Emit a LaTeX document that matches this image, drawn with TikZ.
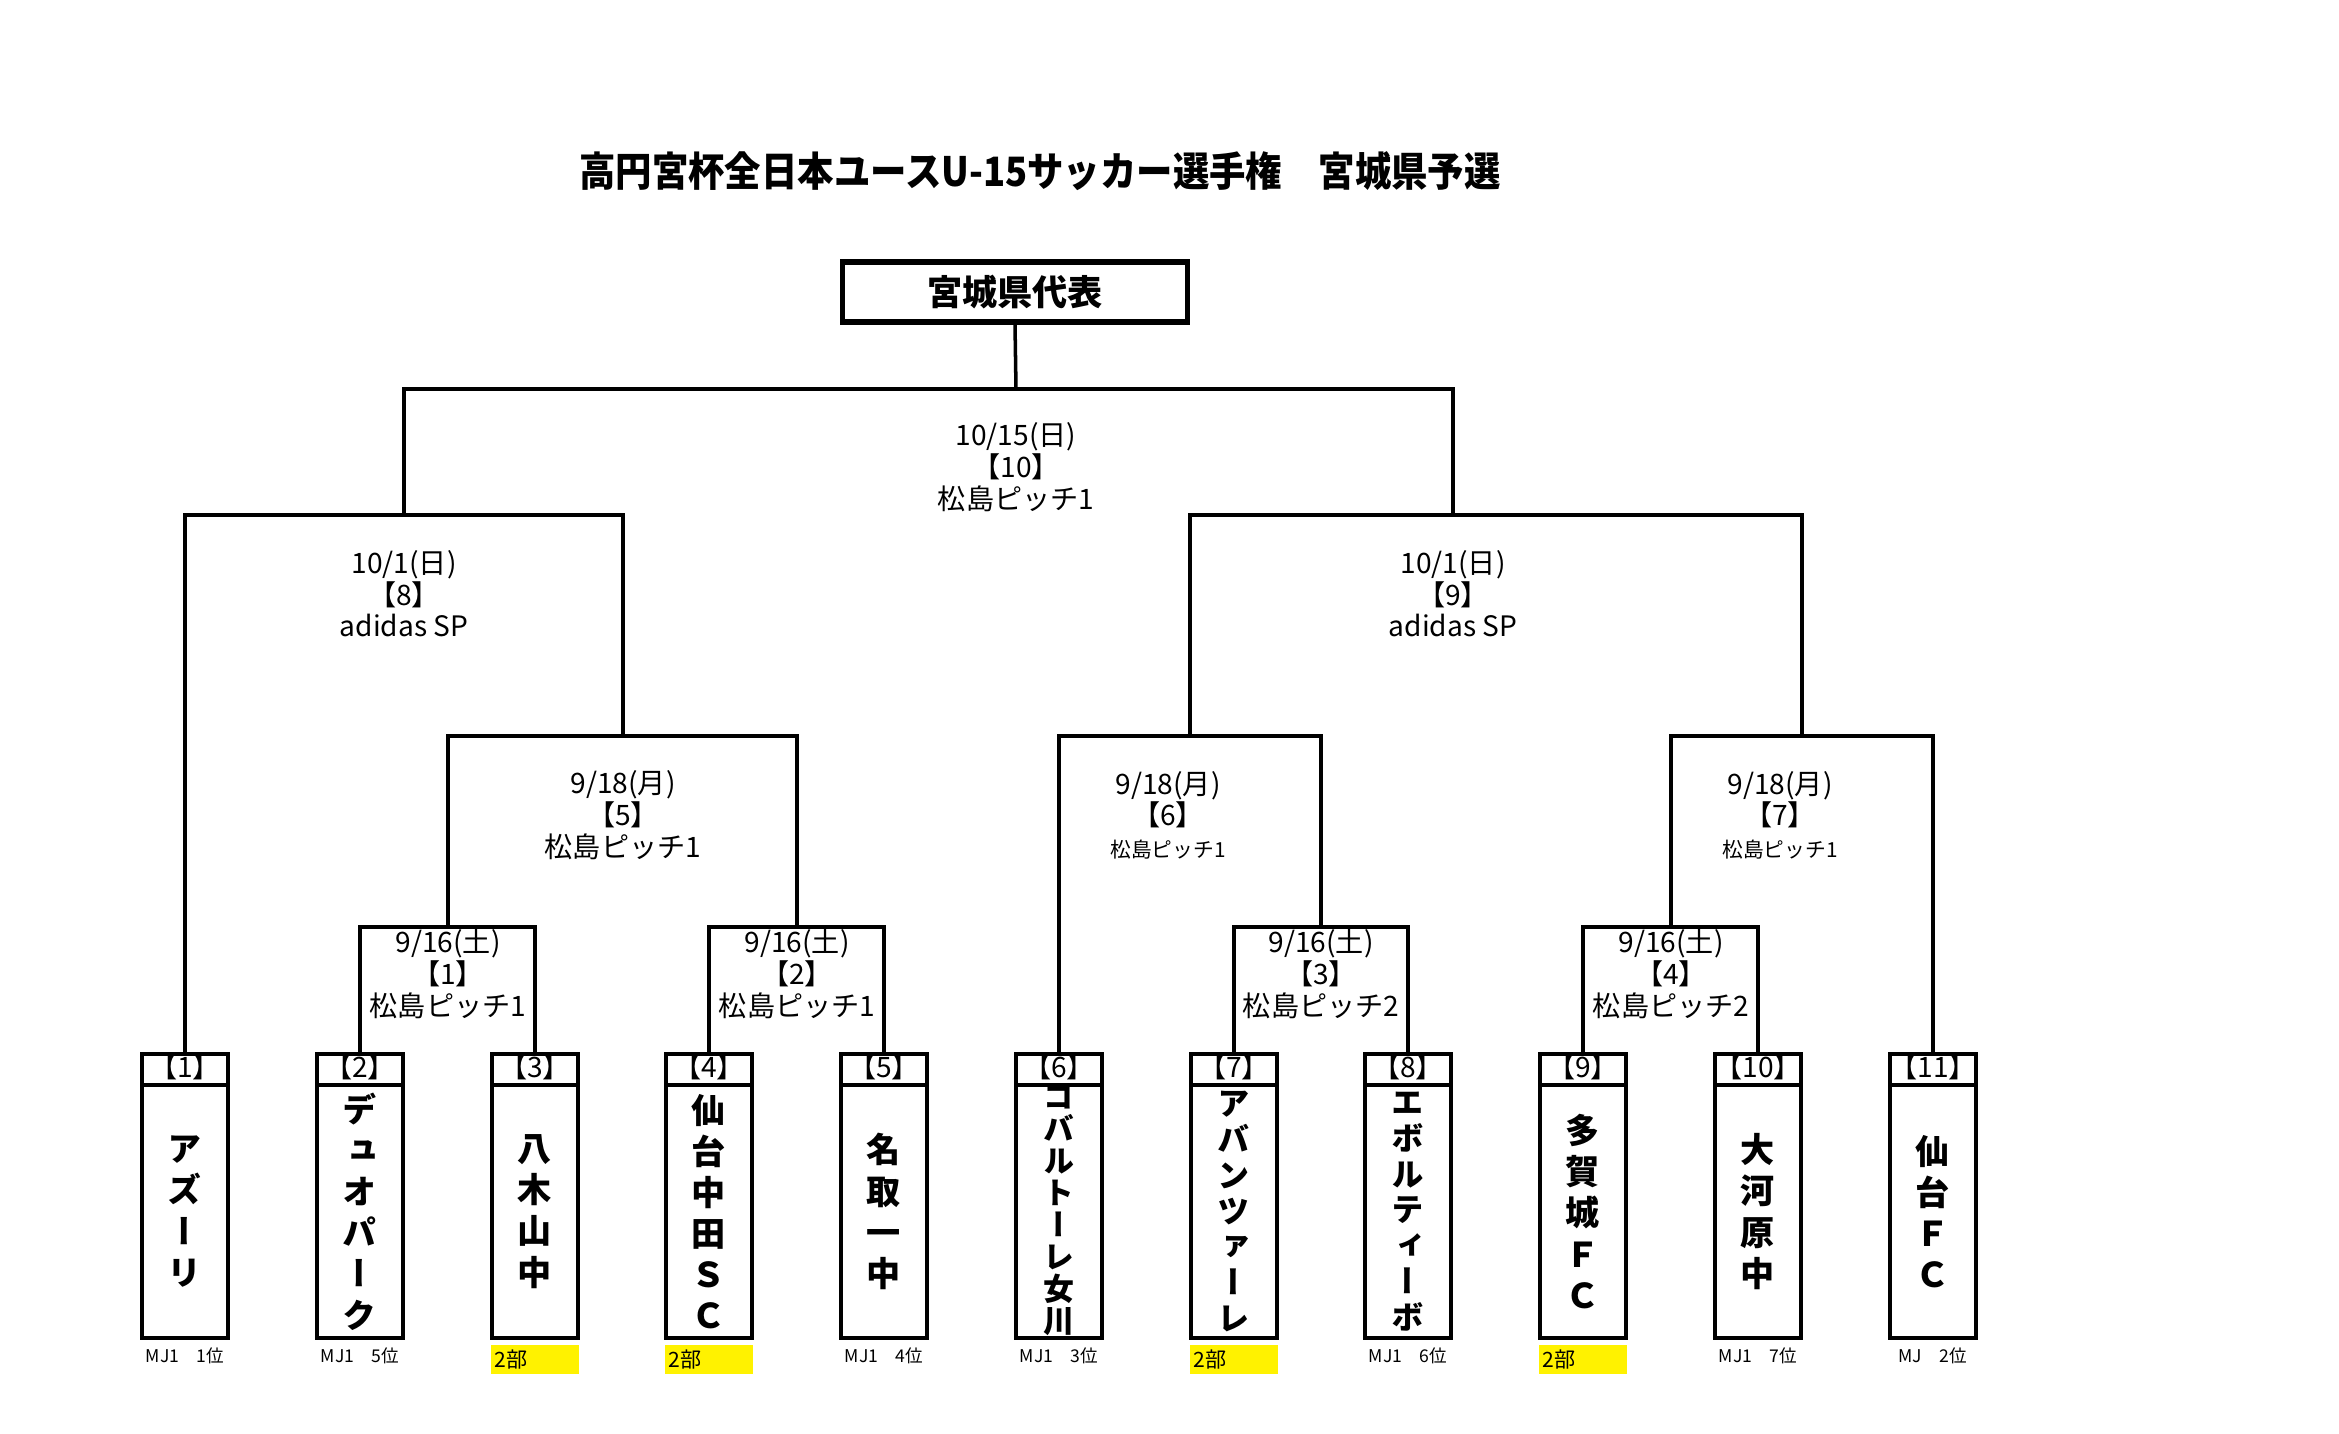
\documentclass[tikz,border=0pt]{standalone}
\usepackage{fontspec}
\setmainfont{Noto Sans CJK JP}
\newfontfamily\titlefont{Noto Sans CJK JP}[FakeStretch=0.9]
\newfontfamily\vfont{Noto Sans CJK JP}[RawFeature=+vert]
\usepackage{tikz}
\usetikzlibrary{positioning}

\begin{document}
\begin{tikzpicture}[x=0.01cm,y=-0.01cm,
  bracket/.style={line width=1pt},
  champbox/.style={draw,line width=1.5pt,minimum width=3.45cm,minimum height=0.6cm,inner sep=0pt,font=\bfseries\fontsize{10}{12}\selectfont},
  teambox/.style={draw,line width=1.3pt,minimum width=0.86cm,minimum height=2.84cm,inner sep=0pt,
    path picture={\draw[line width=1.3pt] ([yshift=-0.31cm]path picture bounding box.north west) -- ([yshift=-0.31cm]path picture bounding box.north east);}},
  headlabel/.style={inner sep=0pt,font=\fontsize{8}{9}\selectfont},
  teamname/.style={inner sep=0pt,align=center,font=\vfont\bfseries\fontsize{9.7}{11.7}\selectfont},
  teamnamemid/.style={inner sep=0pt,align=center,font=\vfont\bfseries\fontsize{9.2}{10.2}\selectfont},
  teamnamesmall/.style={inner sep=0pt,align=center,font=\vfont\bfseries\fontsize{8.8}{9.1}\selectfont},
  matchlabel/.style={inner sep=0pt,align=center,font=\fontsize{8}{9}\selectfont},
  note/.style={inner sep=0.5pt,font=\fontsize{5}{6}\selectfont},
  div2/.style={fill=yellow,minimum width=0.88cm,minimum height=0.29cm,inner sep=0pt,text width=0.8cm,align=left,font=\fontsize{6}{7}\selectfont}]
\useasboundingbox (0,0) rectangle (2339,1433);
% Titulo
\node[inner sep=0pt,font=\titlefont\bfseries\fontsize{11.5}{14}\selectfont] (title) at (1040,171) {高円宮杯全日本ユースU-15サッカー選手権　宮城県予選};
\node[champbox] (champ) at (1015,292) {宮城県代表};
% Equipes
\node[teambox] (t1) at (185,1196) {};
\node[teambox] (t2) at (360,1196) {};
\node[teambox] (t3) at (535,1196) {};
\node[teambox] (t4) at (709,1196) {};
\node[teambox] (t5) at (884,1196) {};
\node[teambox] (t6) at (1059,1196) {};
\node[teambox] (t7) at (1234,1196) {};
\node[teambox] (t8) at (1408,1196) {};
\node[teambox] (t9) at (1583,1196) {};
\node[teambox] (t10) at (1758,1196) {};
\node[teambox] (t11) at (1933,1196) {};
% Numeros
\node[headlabel] (h1) at ([yshift=-0.155cm]t1.north) {【1】};
\node[headlabel] (h2) at ([yshift=-0.155cm]t2.north) {【2】};
\node[headlabel] (h3) at ([yshift=-0.155cm]t3.north) {【3】};
\node[headlabel] (h4) at ([yshift=-0.155cm]t4.north) {【4】};
\node[headlabel] (h5) at ([yshift=-0.155cm]t5.north) {【5】};
\node[headlabel] (h6) at ([yshift=-0.155cm]t6.north) {【6】};
\node[headlabel] (h7) at ([yshift=-0.155cm]t7.north) {【7】};
\node[headlabel] (h8) at ([yshift=-0.155cm]t8.north) {【8】};
\node[headlabel] (h9) at ([yshift=-0.155cm]t9.north) {【9】};
\node[headlabel] (h10) at ([yshift=-0.155cm]t10.north) {【10】};
\node[headlabel] (h11) at ([yshift=-0.155cm]t11.north) {【11】};
% Nomes (vertical)
\node[teamname] (n1) at ([yshift=-0.155cm]t1.center) {ア\\ズ\\ー\\リ};
\node[teamname] (n2) at ([yshift=-0.155cm]t2.center) {デ\\ュ\\オ\\パ\\ー\\ク};
\node[teamname] (n3) at ([yshift=-0.155cm]t3.center) {八\\木\\山\\中};
\node[teamname] (n4) at ([yshift=-0.155cm]t4.center) {仙\\台\\中\\田\\Ｓ\\Ｃ};
\node[teamname] (n5) at ([yshift=-0.155cm]t5.center) {名\\取\\一\\中};
\node[teamnamesmall] (n6) at ([yshift=-0.155cm]t6.center) {コ\\バ\\ル\\ト\\ー\\レ\\女\\川};
\node[teamnamemid] (n7) at ([yshift=-0.155cm]t7.center) {ア\\バ\\ン\\ツ\\ァ\\ー\\レ};
\node[teamnamemid] (n8) at ([yshift=-0.155cm]t8.center) {エ\\ボ\\ル\\テ\\ィ\\ー\\ボ};
\node[teamname] (n9) at ([yshift=-0.155cm]t9.center) {多\\賀\\城\\Ｆ\\Ｃ};
\node[teamname] (n10) at ([yshift=-0.155cm]t10.center) {大\\河\\原\\中};
\node[teamname] (n11) at ([yshift=-0.155cm]t11.center) {仙\\台\\Ｆ\\Ｃ};
% Notas
\node[note,below=0.05cm of t1] (r1) {MJ1　1位};
\node[note,below=0.05cm of t2] (r2) {MJ1　5位};
\node[div2,below=0.04cm of t3] (r3) {2部};
\node[div2,below=0.04cm of t4] (r4) {2部};
\node[note,below=0.05cm of t5] (r5) {MJ1　4位};
\node[note,below=0.05cm of t6] (r6) {MJ1　3位};
\node[div2,below=0.04cm of t7] (r7) {2部};
\node[note,below=0.05cm of t8] (r8) {MJ1　6位};
\node[div2,below=0.04cm of t9] (r9) {2部};
\node[note,below=0.05cm of t10] (r10) {MJ1　7位};
\node[note,below=0.05cm of t11] (r11) {MJ　2位};
% Jogos
\coordinate (m1) at (448,927);
\coordinate (m2) at (797,927);
\coordinate (m3) at (1321,927);
\coordinate (m4) at (1671,927);
\coordinate (m5) at (623,736);
\coordinate (m6) at (1190,736);
\coordinate (m7) at (1802,736);
\coordinate (m8) at (404,515);
\coordinate (m9) at (1453,515);
\coordinate (m10) at (1016,389);
\draw[bracket] (t2.north) |- (m1) -| (t3.north);
\draw[bracket] (t4.north) |- (m2) -| (t5.north);
\draw[bracket] (t7.north) |- (m3) -| (t8.north);
\draw[bracket] (t9.north) |- (m4) -| (t10.north);
\draw[bracket] (m1) |- (m5) -| (m2);
\draw[bracket] (t6.north) |- (m6) -| (m3);
\draw[bracket] (m4) |- (m7) -| (t11.north);
\draw[bracket] (t1.north) |- (m8) -| (m5);
\draw[bracket] (m6) |- (m9) -| (m7);
\draw[bracket] (m8) |- (m10) -| (m9);
\draw[bracket] (m10) -- (champ.south);
% Datas e locais
\node[matchlabel] (l1) at (448,974) {9/16(土)\\【1】\\松島ピッチ1};
\node[matchlabel] (l2) at (797,974) {9/16(土)\\【2】\\松島ピッチ1};
\node[matchlabel] (l3) at (1321,974) {9/16(土)\\【3】\\松島ピッチ2};
\node[matchlabel] (l4) at (1671,974) {9/16(土)\\【4】\\松島ピッチ2};
\node[matchlabel] (l5) at (623,815) {9/18(月)\\【5】\\松島ピッチ1};
\node[matchlabel] (l6) at (1168,815) {9/18(月)\\【6】\\{\fontsize{5.9}{7}\selectfont 松島ピッチ1}};
\node[matchlabel] (l7) at (1780,815) {9/18(月)\\【7】\\{\fontsize{5.9}{7}\selectfont 松島ピッチ1}};
\node[matchlabel] (l8) at (404,594) {10/1(日)\\【8】\\adidas SP};
\node[matchlabel] (l9) at (1453,594) {10/1(日)\\【9】\\adidas SP};
\node[matchlabel] (l10) at (1016,467) {10/15(日)\\【10】\\松島ピッチ1};
\end{tikzpicture}
\end{document}
